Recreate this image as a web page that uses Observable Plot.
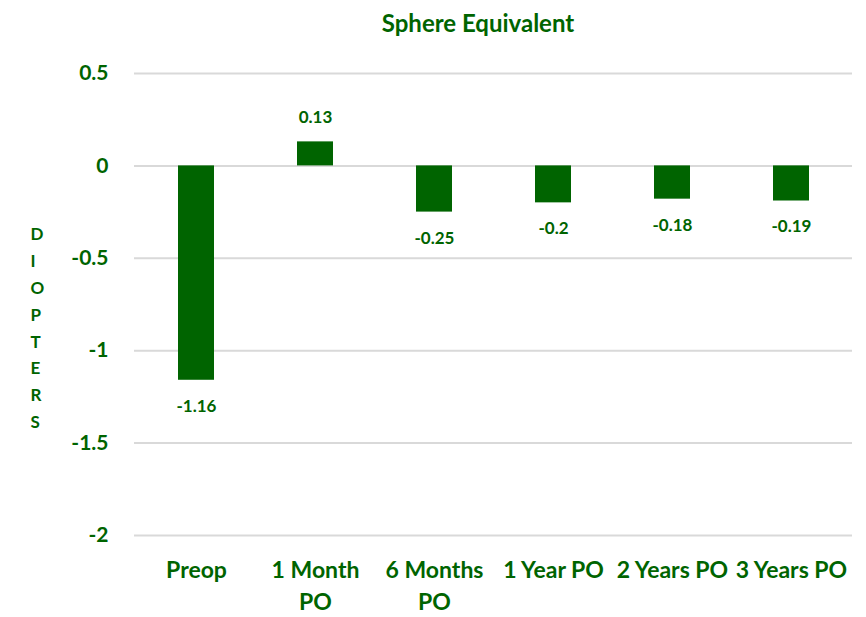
<!DOCTYPE html>
<html>
<head>
<meta charset="utf-8">
<script src="https://cdn.jsdelivr.net/npm/d3@7"></script>
<script src="https://cdn.jsdelivr.net/npm/@observablehq/plot@0.6"></script>
<style>
  body { margin: 0; background: #fff; font-family: Lato, "Open Sans", sans-serif; }
  #wrap { position: relative; width: 866px; }
  #title { height: 45px; line-height: 46px; padding-left: 90px; text-align: center; font-size: 24px; font-weight: bold; color: #006400; box-sizing: border-box; }
</style>
</head>
<body>
<div id="wrap">
  <div id="title">Sphere Equivalent</div>
  <div id="chart"></div>
</div>
<script>
const categories = ["Preop", "1 Month PO", "6 Months PO", "1 Year PO", "2 Years PO", "3 Years PO"];
const tickLabels = ["Preop", "1 Month\nPO", "6 Months\nPO", "1 Year PO", "2 Years PO", "3 Years PO"];
const values = [-1.16, 0.13, -0.25, -0.2, -0.18, -0.19];
const yTicks = [0.5, 0, -0.5, -1, -1.5, -2];
const yTitle = "DIOPTERS";

const green = "#006400";
const data = categories.map((c, i) => ({ cat: c, value: values[i] }));
const labelMap = new Map(categories.map((c, i) => [c, tickLabels[i]]));

const chart = Plot.plot({
  width: 866,
  height: 572,
  marginTop: 28,
  marginBottom: 82,
  marginLeft: 134,
  marginRight: 14,
  style: { fontFamily: "Lato, 'Open Sans', sans-serif", color: green, background: "#fff" },
  x: { domain: categories, paddingInner: 0.7, paddingOuter: 0.35 },
  y: { domain: [-2, 0.5] },
  marks: [
    Plot.gridY(yTicks, { stroke: "#d9d9d9", strokeOpacity: 1, strokeWidth: 2 }),
    Plot.barY(data, { x: "cat", y: "value", fill: green }),
    Plot.text(data.filter(d => d.value >= 0), {
      x: "cat", y: "value", text: d => String(d.value),
      dy: -24, fill: green, fontSize: 17, fontWeight: "bold"
    }),
    Plot.text(data.filter(d => d.value < 0), {
      x: "cat", y: "value", text: d => String(d.value),
      dy: 26, fill: green, fontSize: 17, fontWeight: "bold"
    }),
    Plot.axisY(yTicks, {
      tickSize: 0, tickPadding: 26, fontSize: 21, fontWeight: "bold", fill: green,
      tickFormat: d => String(d), label: null
    }),
    Plot.axisX({
      tickSize: 0, tickPadding: 20, fontSize: 23, fontWeight: "bold", fill: green,
      lineHeight: 1.39, tickFormat: d => labelMap.get(d), label: null
    }),
    Plot.text([yTitle], {
      text: d => d.split("").join("\n"),
      frameAnchor: "left", dx: -104, dy: 21,
      lineHeight: 1.58, fontSize: 17, fontWeight: "bold", fill: green
    })
  ]
});
document.getElementById("chart").appendChild(chart);
</script>
</body>
</html>
